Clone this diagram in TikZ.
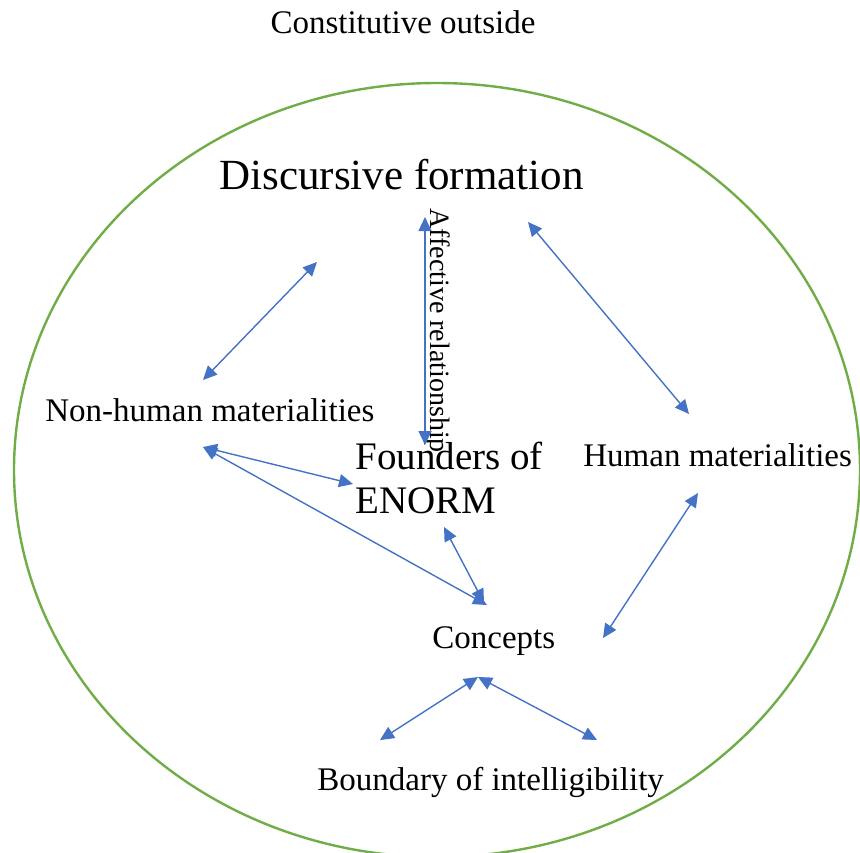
\documentclass[tikz,border=0pt]{standalone}
\usepackage{fontspec}
\setmainfont{Liberation Serif}
\usetikzlibrary{arrows.meta,positioning}
\definecolor{linkblue}{HTML}{4472C4}
\definecolor{ringgreen}{HTML}{70AD47}
\tikzset{
  plaintext/.style={inner sep=0pt, font=\fontsize{16.5}{19}\selectfont},
  bigtext/.style={inner sep=0pt, font=\fontsize{21.5}{24}\selectfont},
  foundertext/.style={inner sep=0pt, align=left, font=\fontsize{19.5}{22}\selectfont},
  sidetext/.style={inner sep=0pt, font=\fontsize{14}{16}\selectfont},
  linkarrow/.style={{Triangle[length=7pt,width=6.5pt]}-{Triangle[length=7pt,width=6.5pt]}, draw=linkblue, line width=0.7pt},
  ring/.style={draw=ringgreen, line width=1.2pt}
}
\begin{document}
\begin{tikzpicture}[x=0.5pt, y=-0.5pt]
\useasboundingbox (0,0) rectangle (860,852);
\draw[ring] (437,470) ellipse [x radius=211.5pt, y radius=193.5pt];
\node[plaintext, anchor=base] (outside) at (403,33) {Constitutive outside};
\node[bigtext, anchor=base west] (discursive) at (219,189) {Discursive formation};
\node[sidetext, rotate=-90, anchor=base west] (affective) at (430,208) {Affective relationship};
\node[plaintext, anchor=base west] (nonhuman) at (45,421) {Non-human materialities};
\node[foundertext, anchor=north west] (founders) at (355,442) {Founders of\\ENORM};
\node[plaintext, anchor=base west] (human) at (583,466) {Human materialities};
\node[plaintext, anchor=base west] (concepts) at (432,648) {Concepts};
\node[plaintext, anchor=base west] (boundary) at (317,790) {Boundary of intelligibility};
\coordinate (dfA) at (317,262);
\coordinate (nhA) at (203,380);
\coordinate (dfB) at (425,217);
\coordinate (fdB) at (425,445);
\coordinate (dfC) at (528,222);
\coordinate (hmC) at (689,414);
\coordinate (nhD) at (203,447);
\coordinate (fdD) at (353,484);
\coordinate (ccE) at (487,605);
\coordinate (fdF) at (444,527);
\coordinate (ccF) at (484,603);
\coordinate (hmG) at (698,493);
\coordinate (ccG) at (603,638);
\coordinate (ccH) at (478,677);
\coordinate (bdL) at (380,740);
\coordinate (bdR) at (597,740);
\draw[linkarrow] (nhA) -- (dfA);
\draw[linkarrow] (dfB) -- (fdB);
\draw[linkarrow] (dfC) -- (hmC);
\draw[linkarrow] (nhD) -- (fdD);
\draw[linkarrow] (nhD) -- (ccE);
\draw[linkarrow] (fdF) -- (ccF);
\draw[linkarrow] (hmG) -- (ccG);
\draw[linkarrow] (ccH) -- (bdL);
\draw[linkarrow] (ccH) -- (bdR);
\end{tikzpicture}
\end{document}
